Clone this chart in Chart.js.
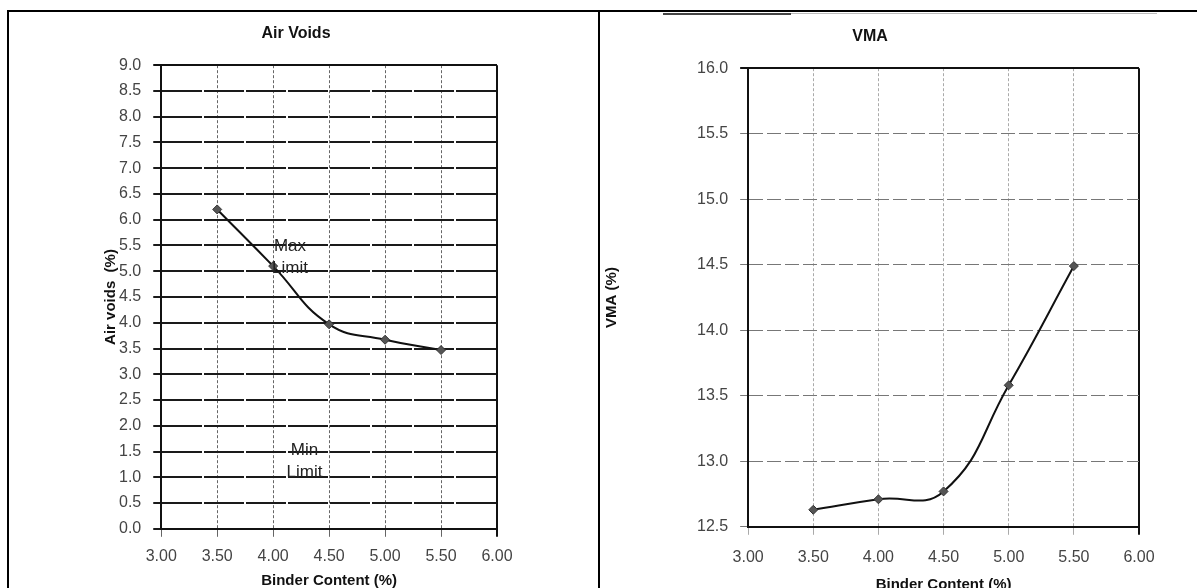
<!DOCTYPE html>
<html>
<head>
<meta charset="utf-8">
<script src="https://cdn.jsdelivr.net/npm/chart.js@4.4.1/dist/chart.umd.min.js"></script>
<style>
	html, body { margin: 0; background: #fff; overflow: hidden; width: 1197px; height: 588px; }
	#frame { position: absolute; left: 7px; top: 10px; width: 1200px; height: 600px; border-top: 2px solid #000; border-left: 2px solid #000; }
	#divider { position: absolute; left: 598px; top: 10px; width: 2px; height: 590px; background: #000; }
	.scanline { position: absolute; top: 13px; height: 1px; }
	.box { position: absolute; }
</style>
</head>
<body>
<div id="frame"></div>
<div id="divider"></div>
<div class="scanline" style="left:663px; width:128px; height:2px; background:#444;"></div>
<div class="scanline" style="left:791px; width:366px; background:#bbb;"></div>
<div class="box" style="left:95px; top:13px; width:470px; height:577px;"><canvas id="airVoidsChart"></canvas></div>
<div class="box" style="left:601px; top:12px; width:596px; height:582px;"><canvas id="vmaChart"></canvas></div>
<script>
const binderContent = [3.5, 4.0, 4.5, 5.0, 5.5];
const airVoids = [6.2, 5.1, 3.97, 3.67, 3.47];
const vma = [12.63, 12.71, 12.77, 13.58, 14.49];

const limitLabels = ["Max", "Limit", "Min", "Limit"];
const limitX = [4.15, 4.15, 4.28, 4.28];
const limitY = [5.48, 5.06, 1.52, 1.1];

document.addEventListener("DOMContentLoaded", function () {
	Chart.defaults.font.family = '"Liberation Sans", Arial, sans-serif';
	Chart.defaults.color = "#444";

	// text labels drawn inside the air voids plot
	const limitText = {
		id: "limitText",
		afterDatasetsDraw: function (chart) {
			const ctx = chart.ctx;
			const xs = chart.scales.x;
			const ys = chart.scales.y;
			ctx.save();
			ctx.font = "17px 'Liberation Sans', Arial, sans-serif";
			ctx.fillStyle = "#222";
			ctx.textAlign = "center";
			ctx.textBaseline = "middle";
			limitLabels.forEach(function (t, i) {
				ctx.fillText(t, xs.getPixelForValue(limitX[i]), ys.getPixelForValue(limitY[i]));
			});
			ctx.restore();
		},
	};

	function isEdge(ctx, max) {
		return ctx.tick && Math.abs(ctx.tick.value - max) < 1e-9;
	}

	function makeChart(id, values, yMin, yMax, title, yTitle, opts) {
		return new Chart(document.getElementById(id).getContext("2d"), {
			type: "line",
			data: {
				datasets: [
					{
						data: binderContent.map((x, i) => ({ x: x, y: values[i] })),
						borderColor: "#111",
						borderWidth: 2,
						tension: 0.45,
						pointStyle: "rectRot",
						pointRadius: 4.5,
						pointBackgroundColor: "#555",
						pointBorderColor: "#333",
						pointBorderWidth: 1,
						fill: false,
					},
				],
			},
			options: {
				responsive: true,
				maintainAspectRatio: false,
				animation: false,
				layout: { padding: opts.layout },
				plugins: {
					legend: { display: false },
					tooltip: { enabled: false },
					title: {
						display: true,
						text: title,
						color: "#111",
						font: { size: 16, weight: "bold" },
						padding: opts.titlePad,
					},
				},
				scales: {
					x: {
						type: "linear",
						min: 3,
						max: 6,
						ticks: {
							stepSize: 0.5,
							padding: opts.xTickPad,
							font: { size: 16 },
							callback: (v) => v.toFixed(2),
						},
						grid: {
							color: (c) => (isEdge(c, 6) ? "#111" : opts.vGridColor),
							lineWidth: (c) => (isEdge(c, 6) ? 2 : 1),
							tickLength: 8,
						},
						border: {
							display: true,
							color: "#111",
							width: 2,
							dash: (c) => (isEdge(c, 6) ? [] : [3, 2]),
						},
						title: {
							display: true,
							text: "Binder Content (%)",
							color: "#111",
							font: { size: 15, weight: "bold" },
							padding: { top: opts.xTitleTop, bottom: 0 },
						},
					},
					y: {
						min: yMin,
						max: yMax,
						ticks: {
							stepSize: 0.5,
							padding: 12,
							font: { size: 16 },
							callback: (v) => v.toFixed(1),
						},
						grid: {
							color: (c) => (isEdge(c, yMax) ? "#111" : opts.hGridColor),
							lineWidth: (c) => (isEdge(c, yMax) ? 2 : opts.hGridWidth),
							tickLength: 8,
						},
						border: {
							display: true,
							color: "#111",
							width: 2,
							dash: (c) => (isEdge(c, yMax) ? [] : opts.hDash),
						},
						title: {
							display: true,
							text: yTitle,
							color: "#111",
							font: { size: 15, weight: "bold" },
							padding: opts.yTitlePad,
						},
					},
				},
			},
			plugins: opts.plugins,
		});
	}

	makeChart("airVoidsChart", airVoids, 0, 9, "Air Voids", "Air voids  (%)", {
		layout: { left: 0, right: 68, top: 0, bottom: 0 },
		titlePad: { top: 11, bottom: 22 },
		xTickPad: 10,
		xTitleTop: -4,
		vGridColor: "#666",
		hGridColor: "#1a1a1a",
		hGridWidth: 2,
		hDash: [40, 2],
		yTitlePad: { top: 7, bottom: -13 },
		plugins: [limitText],
	});

	makeChart("vmaChart", vma, 12.5, 16, "VMA", "VMA (%)", {
		layout: { left: 0, right: 58, top: 0, bottom: 0 },
		titlePad: { top: 15, bottom: 22 },
		xTickPad: 13,
		xTitleTop: -4,
		vGridColor: "#aaa",
		hGridColor: "#777",
		hGridWidth: 1,
		hDash: [14, 4],
		yTitlePad: { top: 2, bottom: 64 },
		plugins: [],
	});
});
</script>
</body>
</html>
